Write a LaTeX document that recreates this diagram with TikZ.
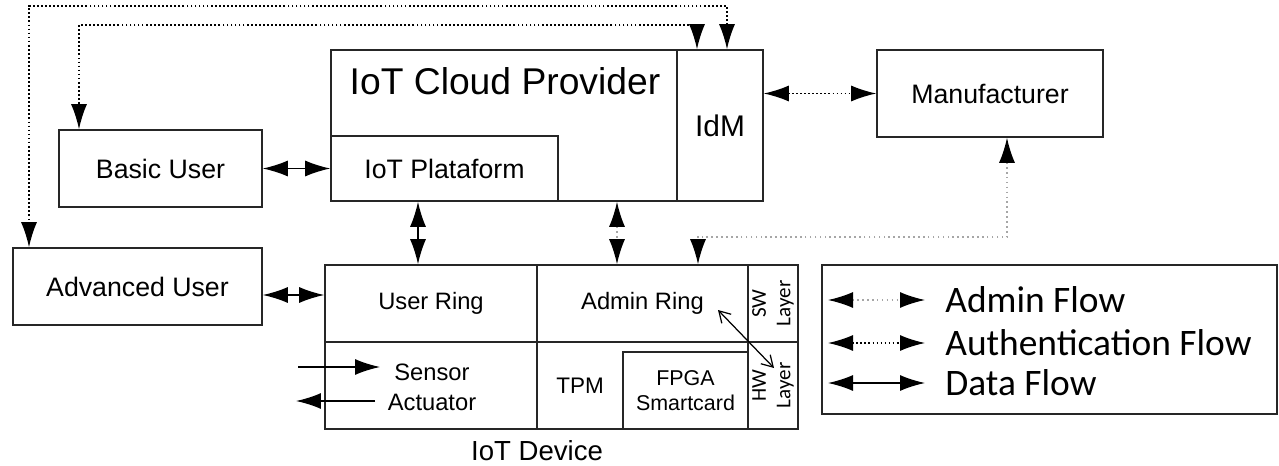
\documentclass[tikz,border=0pt]{standalone}
\usepackage{fontspec}
\setmainfont{Liberation Sans}
\newfontfamily\legfont{Carlito}
\usetikzlibrary{arrows.meta,fit}

\tikzset{flowtip/.tip={Latex[length=0.5cm,width=0.32cm,color=black]}}

\begin{document}
\begin{tikzpicture}[x=0.02cm,y=-0.02cm,
  box/.style={draw=black!85,line width=0.9pt,inner sep=0pt},
  lbl/.style={font=\fontsize{15.2}{17}\selectfont},
  sm/.style={font=\fontsize{13.5}{17}\selectfont},
  layer/.style={rotate=90,align=center,font=\legfont\fontsize{12}{14}\selectfont},
  data/.style={flowtip-flowtip,line width=0.8pt},
  auth/.style={data,dash pattern=on 1pt off 1.3pt},
  admin/.style={data,draw=black!35,dash pattern=on 0.9pt off 1.9pt}]
\useasboundingbox (0,0) rectangle (1279,466);

%cloud
\node[box,fit={(331,50) (677,201)}] (cloud) {};
\node[box,fit={(331,136) (558,201)}] (plat) {};
\node[box,fit={(677,50) (763,201)}] (idm) {};
\node[box,fit={(877,50) (1103,137)}] (manu) {};
\node[font=\fontsize{21.2}{24}\selectfont] (cloudname) at (505,81) {IoT Cloud Provider};
\node[lbl] (platname) at (plat.center) {IoT Plataform};
\node[font=\fontsize{17}{20}\selectfont] (idmname) at (idm.center) {IdM};
\node[lbl] (manuname) at (manu.center) {Manufacturer};

%users
\node[box,fit={(59,130) (262,207)}] (basic) {};
\node[box,fit={(13,248) (262,325)}] (adv) {};
\node[lbl] (basicname) at (basic.center) {Basic User};
\node[lbl] (advname) at (adv.center) {Advanced User};

%device
\node[box,fit={(325,265) (537,342)}] (userring) {};
\node[box,fit={(537,265) (748,342)}] (adminring) {};
\node[box,fit={(748,265) (798,342)}] (swcell) {};
\node[box,fit={(748,342) (798,429)}] (hwcell) {};
\node[box,fit={(325,342) (537,429)}] (senscell) {};
\node[box,fit={(537,342) (748,429)}] (tpmcell) {};
\node[box,fit={(623,352) (748,429)}] (fpga) {};
\node[sm] (username) at (userring.center) {User Ring};
\node[sm] (adminname) at (adminring.center) {Admin Ring};
\node[align=center,font=\fontsize{12.2}{14.2}\selectfont] (fpganame) at (fpga.center) {FPGA\\Smartcard};
\node[align=center,font=\fontsize{13.5}{17}\selectfont] (sens) at (432,387) {Sensor\\Actuator};
\node[font=\fontsize{12.8}{15}\selectfont] (tpm) at (580,386) {TPM};
\node[layer] (swlbl) at (swcell.center) {SW\\Layer};
\node[layer] (hwlbl) at (hwcell.center) {HW\\Layer};
\node[font=\fontsize{15.7}{18}\selectfont] (devname) at (537,451) {IoT Device};

%flows
\draw[data] (basic.east) -- (plat.west);
\draw[data] ([yshift=-0.17cm]adv.east) -- ([yshift=-0.17cm]adv.east -| userring.west);
\draw[data] (418,0 |- plat.south) -- (418,0 |- userring.north);
\draw[admin] (617,0 |- cloud.south) -- (617,0 |- adminring.north);
\draw[admin] (1007,0 |- manu.south) |- (698,237) -- (698,0 |- adminring.north);
\draw[auth] (idm.east |- manu.west) -- (manu.west);
\draw[auth] (697,0 |- idm.north) |- (79,25) -- (79,0 |- basic.north);
\draw[auth] (727,0 |- idm.north) |- (29,6) -- (29,0 |- adv.north);

\coordinate (swtip) at (718,310);
\coordinate (hwtip) at (774,368);
\draw[{Straight Barb[length=0.22cm,width=0.26cm]}-{Straight Barb[length=0.22cm,width=0.26cm]},line width=0.7pt] (swtip) -- (hwtip);

\coordinate (sensorin) at (298,367);
\coordinate (sensorend) at (380,367);
\coordinate (actout) at (375,401);
\coordinate (actend) at (296,401);
\draw[-flowtip,line width=0.8pt] (sensorin) -- (sensorend);
\draw[-flowtip,line width=0.8pt] (actout) -- (actend);

%legend
\node[box,fit={(822,265) (1277,414)}] (legend) {};
\foreach \y/\st/\txt in {300/admin/Admin Flow,343/auth/Authentication Flow,383/data/Data Flow}{
  \coordinate (legl\y) at (828,\y);
  \coordinate (legr\y) at (925,\y);
  \draw[\st] (legl\y) -- (legr\y);
  \node[anchor=west,inner sep=0pt,font=\legfont\fontsize{21.3}{24}\selectfont] (legt\y) at (945,\y) {\txt};
}

\end{tikzpicture}
\end{document}
